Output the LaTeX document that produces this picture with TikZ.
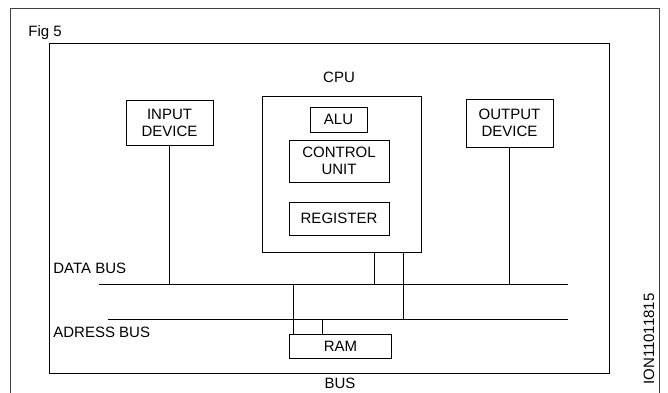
\documentclass[tikz,border=0pt]{standalone}
\usepackage{fontspec}
\setmainfont{Liberation Sans}
\usetikzlibrary{positioning}

\tikzset{
  unit/.style={draw, line width=0.8pt, align=center, inner sep=0pt, font=\fontsize{15}{17}\selectfont},
  label/.style={font=\fontsize{15}{17}\selectfont, inner sep=0pt}
}

\begin{document}
\begin{tikzpicture}[x=1pt,y=-1pt,line width=0.8pt]
			\useasboundingbox (0,0) rectangle (668,392);
			% frames
			\begin{scope}
			\clip (0,0) rectangle (668,392);
			\draw[black!75] (10,400) |- (659,8) -- (659,400);
			\end{scope}
			\draw (49,43) rectangle (609,373);
			% Units
			\node[unit, minimum width=87pt, minimum height=45pt] (indev) at (169.5,122.5) {INPUT\\DEVICE};
			\node[unit, minimum width=87pt, minimum height=48pt] (outdev) at (509.5,123) {OUTPUT\\DEVICE};
			\node[unit, minimum width=159pt, minimum height=156pt] (cpu) at (341.5,174) {};
			\node[unit, minimum width=57pt, minimum height=25pt] (alu) at (338.5,119.5) {ALU};
			\node[unit, minimum width=100pt, minimum height=42pt] (cu) at (339,161) {CONTROL\\UNIT};
			\node[unit, minimum width=100pt, minimum height=33pt] (reg) at (339,218.5) {REGISTER};
			\node[unit, minimum width=102pt, minimum height=24pt] (ram) at (340.5,346.5) {RAM};
			% Buses
			\coordinate (dbL) at (99,284);
			\coordinate (dbR) at (568,284);
			\coordinate (abL) at (108,319);
			\coordinate (abR) at (568,319);
			\draw (dbL) -- (dbR);
			\draw (abL) -- (abR);
			\draw (indev.south) -- (indev.south |- dbL);
			\draw (outdev.south) -- (outdev.south |- dbL);
			\draw ([xshift=32.5pt]cpu.south) -- ([xshift=32.5pt]cpu.south |- dbL);
			\draw ([xshift=61.5pt]cpu.south) -- ([xshift=61.5pt]cpu.south |- abL);
			\draw ([xshift=-47.5pt]ram.north) -- ([xshift=-47.5pt]ram.north |- dbL);
			\draw ([xshift=-18.5pt]ram.north) -- ([xshift=-18.5pt]ram.north |- abL);
			% Labels
			\node[label, anchor=west] (fig) at (28,33) {Fig 5};
			\node[label] (cpulabel) at (339,77) {CPU};
			\node[label, anchor=west] (dblabel) at (53,268) {DATA BUS};
			\node[label, anchor=west] (ablabel) at (53,332) {ADRESS BUS};
			\node[label] (buslabel) at (340,383) {BUS};
			\node[label, rotate=90] (code) at (649,339) {ION11011815};
\end{tikzpicture}
\end{document}
